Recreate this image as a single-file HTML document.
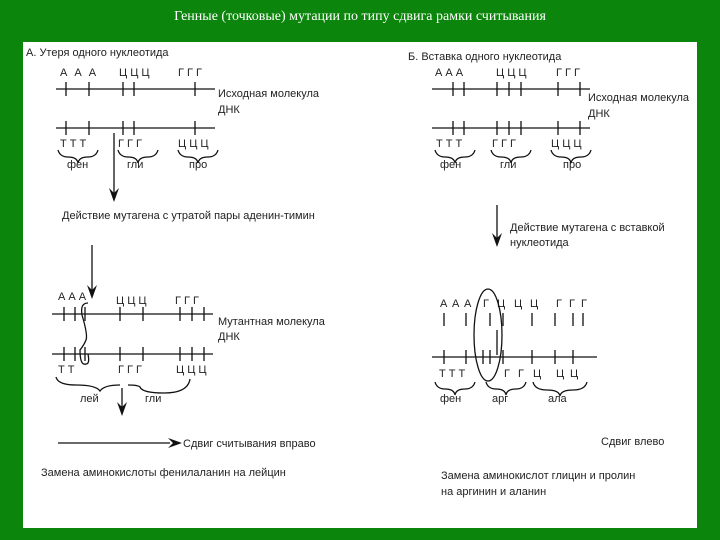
<!DOCTYPE html>
<html><head><meta charset="utf-8"><style>
html,body{margin:0;padding:0;width:720px;height:540px;overflow:hidden;background:#0b850b;}
svg{display:block}
text{font-family:"Liberation Sans",sans-serif;fill:#222}
</style></head><body>
<svg width="720" height="540" viewBox="0 0 720 540">
<rect width="720" height="540" fill="#0b850b"/>
<text x="360" y="20" text-anchor="middle" style="font-family:'Liberation Serif',serif;fill:#fff" font-size="14">Генные (точковые) мутации по типу сдвига рамки считывания</text>
<rect x="23" y="42" width="674" height="486" fill="#fff"/>
<g font-size="11" stroke="none">
<text x="26" y="56">А. Утеря одного нуклеотида</text>
<text x="60" y="76" letter-spacing="2">А  А  А</text>
<text x="119" y="76">Ц Ц  Ц</text>
<text x="178" y="76">Г  Г  Г</text>
<text x="218" y="97">Исходная молекула</text>
<text x="218" y="113">ДНК</text>
<text x="60" y="147">Т  Т  Т</text>
<text x="118" y="147">Г  Г  Г</text>
<text x="178" y="147">Ц  Ц Ц</text>
<text x="67" y="168">фен</text><text x="127" y="168">гли</text><text x="189" y="168">про</text>
<text x="62" y="219">Действие мутагена с утратой пары аденин-тимин</text>
<text x="58" y="300">А  А  А</text>
<text x="116" y="304">Ц Ц Ц</text>
<text x="175" y="304">Г Г Г</text>
<text x="218" y="325">Мутантная молекула</text>
<text x="218" y="340">ДНК</text>
<text x="58" y="373">Т  Т</text>
<text x="118" y="373">Г  Г  Г</text>
<text x="176" y="373">Ц  Ц Ц</text>
<text x="80" y="402">лей</text><text x="145" y="402">гли</text>
<text x="183" y="447">Сдвиг считывания вправо</text>
<text x="41" y="476">Замена аминокислоты фенилаланин на лейцин</text>

<text x="408" y="60">Б. Вставка одного нуклеотида</text>
<text x="435" y="76">А  А  А</text>
<text x="496" y="76">Ц Ц Ц</text>
<text x="556" y="76">Г  Г  Г</text>
<text x="588" y="101">Исходная молекула</text>
<text x="588" y="117">ДНК</text>
<text x="436" y="147">Т  Т  Т</text>
<text x="492" y="147">Г  Г  Г</text>
<text x="551" y="147">Ц  Ц  Ц</text>
<text x="440" y="168">фен</text><text x="500" y="168">гли</text><text x="563" y="168">про</text>
<text x="510" y="231">Действие мутагена с вставкой</text>
<text x="510" y="246">нуклеотида</text>
<text x="440" y="307">А</text><text x="452" y="307">А</text><text x="464" y="307">А</text>
<text x="483" y="307">Г</text><text x="497" y="307">Ц</text><text x="514" y="307">Ц</text><text x="530" y="307">Ц</text>
<text x="556" y="307">Г</text><text x="569" y="307">Г</text><text x="581" y="307">Г</text>
<text x="439" y="377">Т  Т  Т</text>
<text x="504" y="377">Г</text><text x="518" y="377">Г</text><text x="533" y="377">Ц</text>
<text x="556" y="377">Ц</text><text x="570" y="377">Ц</text>
<text x="440" y="402">фен</text><text x="492" y="402">арг</text><text x="548" y="402">ала</text>
<text x="601" y="445">Сдвиг влево</text>
<text x="441" y="479">Замена аминокислот глицин и пролин</text>
<text x="441" y="495">на аргинин и аланин</text>
</g>
<g stroke="#111" stroke-width="1.3" fill="none">
<line x1="56" y1="89" x2="215" y2="89"/>
<path d="M66 82v14M89 82v14M123 82v14M134 82v14M195 82v14"/>
<line x1="56" y1="128" x2="215" y2="128"/>
<path d="M66 121v14M89 121v14M123 121v14M134 121v14M195 121v14"/>
<path d="M58 150q2 7 10 7q9 0 10 6q1-6 10-6q8 0 10-7"/>
<path d="M118 150q2 7 10 7q9 0 10 6q1-6 10-6q8 0 10-7"/>
<path d="M178 150q2 7 10 7q9 0 10 6q1-6 10-6q8 0 10-7"/>
<line x1="114" y1="133" x2="114" y2="195"/>
<line x1="92" y1="245" x2="92" y2="292"/>
<line x1="52" y1="314" x2="213" y2="314"/>
<path d="M64 307v14M75 307v14M85 307v14M120 307v14M143 307v14M180 307v14M192 307v14M204 307v14"/>
<line x1="52" y1="354" x2="213" y2="354"/>
<path d="M64 347v14M75 347v14M85 347v14M120 347v14M143 347v14M180 347v14M192 347v14M204 347v14"/>
<path d="M88 303q-8 0-6 12q6 20 4 25q-2 5-6 10q0 16 6 14q4 0 2-10"/>
<path d="M56 377q2 8 20 8q20 0 24 6q4-6 20-6"/>
<path d="M128 385q10 0 12 2q2 6 24 6q24 0 26-14"/>
<line x1="122" y1="388" x2="122" y2="410"/>
<line x1="58" y1="443" x2="170" y2="443"/>
<line x1="432" y1="89" x2="590" y2="89"/>
<path d="M453 82v14M464 82v14M497 82v14M509 82v14M521 82v14M558 82v14M580 82v14"/>
<line x1="432" y1="128" x2="590" y2="128"/>
<path d="M453 121v14M464 121v14M497 121v14M509 121v14M521 121v14M558 121v14M580 121v14"/>
<path d="M435 150q2 7 10 7q9 0 10 6q1-6 10-6q8 0 10-7"/>
<path d="M491 150q2 7 10 7q9 0 10 6q1-6 10-6q8 0 10-7"/>
<path d="M551 150q2 7 10 7q9 0 10 6q1-6 10-6q8 0 10-7"/>
<line x1="497" y1="205" x2="497" y2="240"/>
<path d="M444 313v13M466 313v13M490 313v13M503 313v13M532 313v13M555 313v13M573 313v13M583 313v13"/>
<path d="M497 330v25"/>
<line x1="432" y1="357" x2="597" y2="357"/>
<path d="M444 350v14M466 350v14M483 350v14M490 350v14M503 350v14M532 350v14M555 350v14M573 350v14"/>
<ellipse cx="488" cy="335" rx="14" ry="46"/>
<path d="M435 382q2 7 10 7q9 0 10 6q1-6 10-6q8 0 10-7"/>
<path d="M486 382q2 7 10 7q9 0 10 6q1-6 10-6q8 0 10-7"/>
<path d="M533 382q2 8 14 8q12 0 13 6q1-6 13-6q12 0 14-8"/>
</g>
<g fill="#111">
<path d="M114 202l-5-14 5 5 5-5z"/>
<path d="M92 299l-5-14 5 5 5-5z"/>
<path d="M122 416l-5-14 5 5 5-5z"/>
<path d="M182 443l-14-5 5 5-5 5z"/>
<path d="M497 247l-5-14 5 5 5-5z"/>
</g>
</svg>
</body></html>
